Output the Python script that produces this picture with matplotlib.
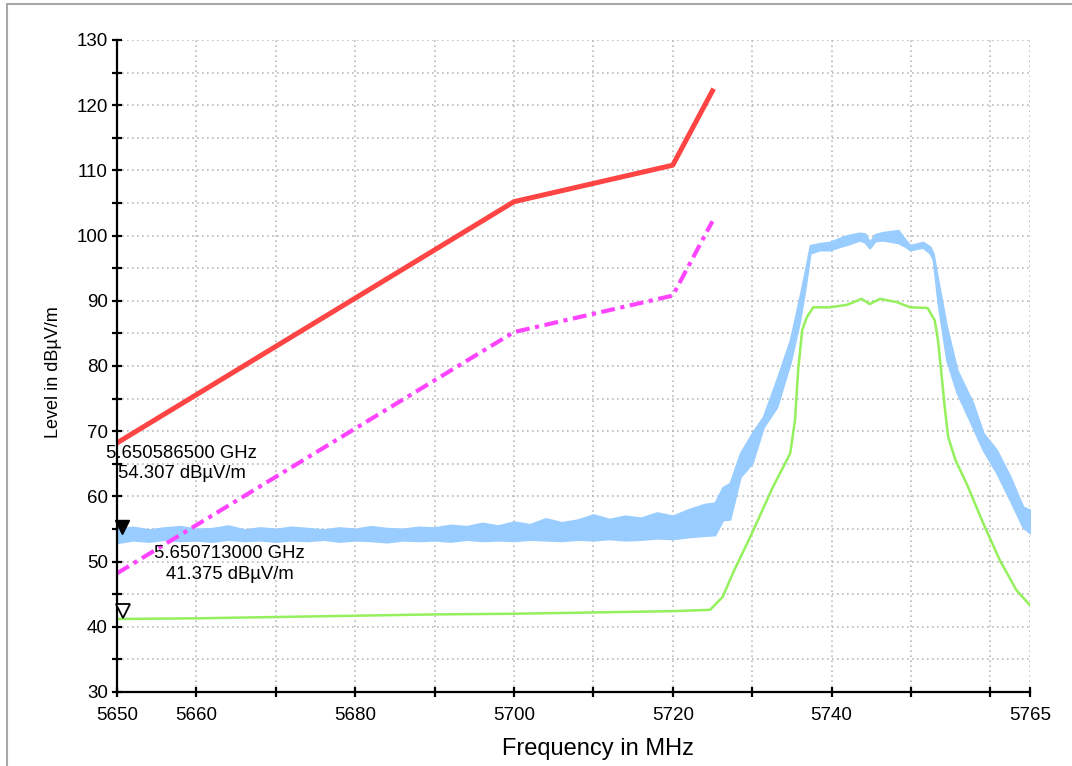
import matplotlib
matplotlib.use("Agg")
import matplotlib.pyplot as plt
import matplotlib.transforms as mtransforms
from matplotlib.patches import Rectangle

plt.rcParams['font.family'] = ['Liberation Sans', 'DejaVu Sans']
plt.rcParams['lines.scale_dashes'] = False

# limit lines (peak limit and 20 dB lower line)
limit_freq = [5650, 5700, 5720, 5725]
limit_peak = [68.2, 105.2, 110.8, 122.2]
limit_low = [48.2, 85.2, 90.8, 102.2]

# peak trace (blue) - read as lower / upper envelope of the noisy trace
blue_freq = [5650, 5652, 5654, 5656, 5658, 5660, 5662, 5664, 5666, 5668,
             5670, 5672, 5674, 5676, 5678, 5680, 5682, 5684, 5686, 5688,
             5690, 5692, 5694, 5696, 5698, 5700, 5702, 5704, 5706, 5708,
             5710, 5712, 5714, 5716, 5718, 5720, 5722, 5724, 5725.3, 5726.3,
             5727.2, 5728.5, 5730, 5731.4, 5733.1, 5734.8, 5736, 5736.7, 5737.3, 5738.5,
             5739.8, 5741, 5741.9, 5743.5, 5744.2, 5744.8, 5745.5, 5746.5, 5748.4, 5749.2,
             5749.9, 5751.5, 5752.4, 5752.8, 5753.4, 5754.5, 5755.8, 5757.8, 5759.1, 5760.8,
             5762.5, 5764.1, 5765]
blue_high = [55.0, 55.3, 54.9, 55.2, 55.4, 55.0, 55.1, 55.5, 54.9, 55.2,
             55.0, 55.3, 55.1, 54.9, 55.2, 55.0, 55.4, 55.1, 55.0, 55.3,
             55.2, 55.6, 55.4, 55.9, 55.5, 56.1, 55.7, 56.6, 56.0, 56.4,
             57.2, 56.5, 57.0, 56.7, 57.5, 57.0, 58.0, 58.8, 59.0, 61.4,
             62.0, 66.6, 69.7, 72.2, 77.9, 84.0, 90.6, 94.7, 98.5, 98.8,
             99.0, 99.6, 100.0, 100.4, 100.3, 99.0, 100.2, 100.5, 100.8, 99.5,
             98.5, 99.0, 98.3, 97.3, 93.2, 86.0, 79.4, 74.3, 69.7, 67.1,
             63.0, 58.4, 57.9]
blue_low = [52.9, 53.3, 53.1, 53.4, 53.2, 53.3, 53.1, 53.4, 53.2, 53.3,
            53.1, 53.3, 53.2, 53.4, 53.1, 53.3, 53.2, 53.0, 53.3, 53.2,
            53.3, 53.1, 53.4, 53.2, 53.3, 53.2, 53.4, 53.3, 53.2, 53.4,
            53.3, 53.5, 53.3, 53.4, 53.6, 53.5, 53.8, 54.0, 54.1, 56.4,
            56.5, 63.0, 65.1, 70.6, 73.7, 80.5, 87.0, 92.1, 97.3, 97.8,
            97.8, 98.3, 98.6, 99.3, 99.0, 98.1, 99.2, 99.3, 98.9, 98.4,
            97.8, 98.2, 97.3, 96.3, 89.7, 80.9, 75.9, 70.6, 67.1, 63.6,
            59.4, 55.3, 54.4]

# average trace (green)
green_freq = [5650, 5660, 5670, 5680, 5690, 5700, 5710, 5720, 5724.7, 5726.3,
              5727.6, 5730, 5732.6, 5734.8, 5735.4, 5735.8, 5736.3, 5736.9, 5737.7, 5739.8,
              5742.0, 5743.8, 5744.8, 5746.1, 5748.2, 5749.9, 5752.1, 5753.0, 5753.4, 5753.8,
              5754.3, 5754.7, 5755.6, 5757.0, 5759.1, 5761.2, 5763.3, 5765]
green_level = [41.2, 41.3, 41.5, 41.7, 41.9, 42.0, 42.2, 42.4, 42.6, 44.6,
               48.3, 54.4, 61.4, 66.6, 71.7, 79.4, 85.5, 87.5, 89.0, 89.0,
               89.4, 90.3, 89.5, 90.3, 89.8, 89.0, 88.9, 87.0, 84.0, 79.4,
               73.2, 69.1, 65.6, 62.0, 55.9, 50.2, 45.6, 43.3]

# markers
m1_freq, m1_level = 5650.5865, 54.307
m2_freq, m2_level = 5650.713, 41.375
m1_text = "5.650586500 GHz\n54.307 dBµV/m"
m2_text = "5.650713000 GHz\n41.375 dBµV/m"

x_ticks = list(range(5650, 5761, 10)) + [5765]
x_labeled = [5650, 5660, 5680, 5700, 5720, 5740, 5765]
y_ticks = list(range(30, 131, 5))

fig = plt.figure(figsize=(10.72, 7.66), dpi=100)
ax = fig.add_axes([117 / 1072, 1 - 692 / 766, 913 / 1072, 652 / 766])

ax.fill_between(blue_freq, blue_low, blue_high, color='#99ccff', lw=1.5,
                edgecolor='#99ccff', zorder=3)
ax.plot(green_freq, green_level, color='#94f05c', lw=1.8, zorder=4)
ax.plot(limit_freq, limit_low, color='#ff44ff', lw=3.0,
        linestyle=(0, (10, 4, 3, 4)), zorder=5)
ax.plot(limit_freq, limit_peak, color='#ff4444', lw=3.6, zorder=6)

# marker triangles sit with their tip on the point
up = mtransforms.offset_copy(ax.transData, fig=fig, y=4.8, units='points')
ax.plot([m1_freq], [m1_level], marker='v', ms=10, color='black',
        transform=up, clip_on=False, zorder=8)
ax.plot([m2_freq], [m2_level], marker='v', ms=10, mfc='white', mec='black',
        mew=1.3, transform=up, clip_on=False, zorder=8)
ax.annotate(m1_text, (m1_freq, m1_level), xytext=(60, 70), textcoords='offset pixels',
            ha='center', va='center', fontsize=13.3, linespacing=1.3, zorder=9)
ax.annotate(m2_text, (m2_freq, m2_level), xytext=(107, 54), textcoords='offset pixels',
            ha='center', va='center', fontsize=13.3, linespacing=1.3, zorder=9)

ax.set_xlim(5650, 5765)
ax.set_ylim(30, 130)
ax.set_xticks(x_ticks)
ax.set_xticklabels([str(t) if t in x_labeled else '' for t in x_ticks])
ax.set_yticks(y_ticks)
ax.set_yticklabels([str(t) if t % 10 == 0 else '' for t in y_ticks])
ax.tick_params(axis='both', direction='inout', length=7, width=1.6,
               labelsize=13.5, color='black')
ax.tick_params(axis='x', pad=7)
ax.tick_params(axis='y', pad=3)

ax.grid(True, color='#b4b4b4', linestyle=(0, (1.2, 2.4)), lw=1.1)
ax.set_axisbelow(True)
for side in ['top', 'right']:
    ax.spines[side].set_visible(False)
for side in ['left', 'bottom']:
    ax.spines[side].set_linewidth(1.6)
    ax.spines[side].set_zorder(7)

ax.set_xlabel("Frequency in MHz", fontsize=17)
ax.xaxis.set_label_coords(0.527, -0.070)
ax.set_ylabel("Level in dBµV/m", fontsize=13)
ax.yaxis.set_label_coords(-0.060, 0.491)

# grey frame around the picture
fig.patches.append(Rectangle((7 / 1072, -0.5), 2, 0.5 + 1 - 4 / 766,
                             transform=fig.transFigure, fill=False,
                             edgecolor='#a8a8a8', lw=1.5))

fig.savefig("out.png", dpi=100)
